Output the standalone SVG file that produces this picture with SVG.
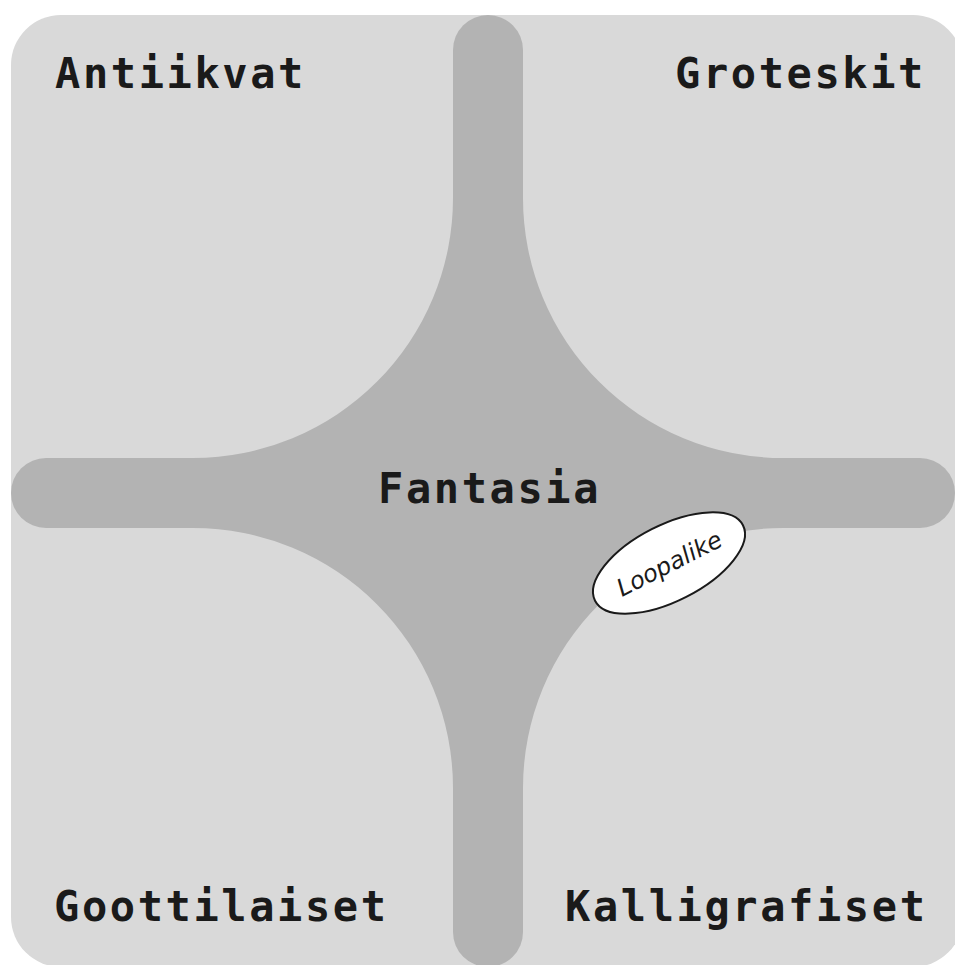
<svg xmlns="http://www.w3.org/2000/svg" width="955" height="965" viewBox="0 0 955 965">
  <style>
    .bg { fill: #d9d9d9; }
    .cross { fill: #b3b3b3; }
    .label { font-family: "DejaVu Sans Mono", "Liberation Mono", monospace; font-weight: bold; font-size: 42px; letter-spacing: 2.6px; fill: #1a1a1a; }
    .tag { fill: #ffffff; stroke: #1a1a1a; stroke-width: 2; }
    .tagtext { font-family: "DejaVu Sans", "Noto Sans", cursive; font-style: italic; font-size: 24px; fill: #1a1a1a; }
  </style>
  <rect width="955" height="965" fill="#ffffff"/>
  <rect class="bg" x="11" y="15" width="952" height="952" rx="50" ry="50"/>
  <g id="connectors">
    <rect class="cross" x="453" y="15" width="70" height="952" rx="35" ry="35"/>
    <rect class="cross" x="11" y="458" width="944" height="70" rx="35" ry="35"/>
    <path class="cross" d="M453,198 A260,260 0 0 1 193,458 L193,528 A260,260 0 0 1 453,788 L523,788 A260,260 0 0 1 783,528 L783,458 A260,260 0 0 1 523,198 Z"/>
  </g>
  <g id="antiikvat"><text class="label" x="55" y="88">Antiikvat</text></g>
  <g id="groteskit"><text class="label" x="675" y="88">Groteskit</text></g>
  <g id="fantasia"><text class="label" x="378" y="503">Fantasia</text></g>
  <g id="goottilaiset"><text class="label" x="54" y="921">Goottilaiset</text></g>
  <g id="kalligrafiset"><text class="label" x="565" y="921">Kalligrafiset</text></g>
  <g id="loopalike" transform="rotate(-27 669 563)">
    <ellipse class="tag" cx="669" cy="563" rx="83" ry="38"/>
    <text class="tagtext" x="669" y="572" text-anchor="middle">Loopalike</text>
  </g>
</svg>
